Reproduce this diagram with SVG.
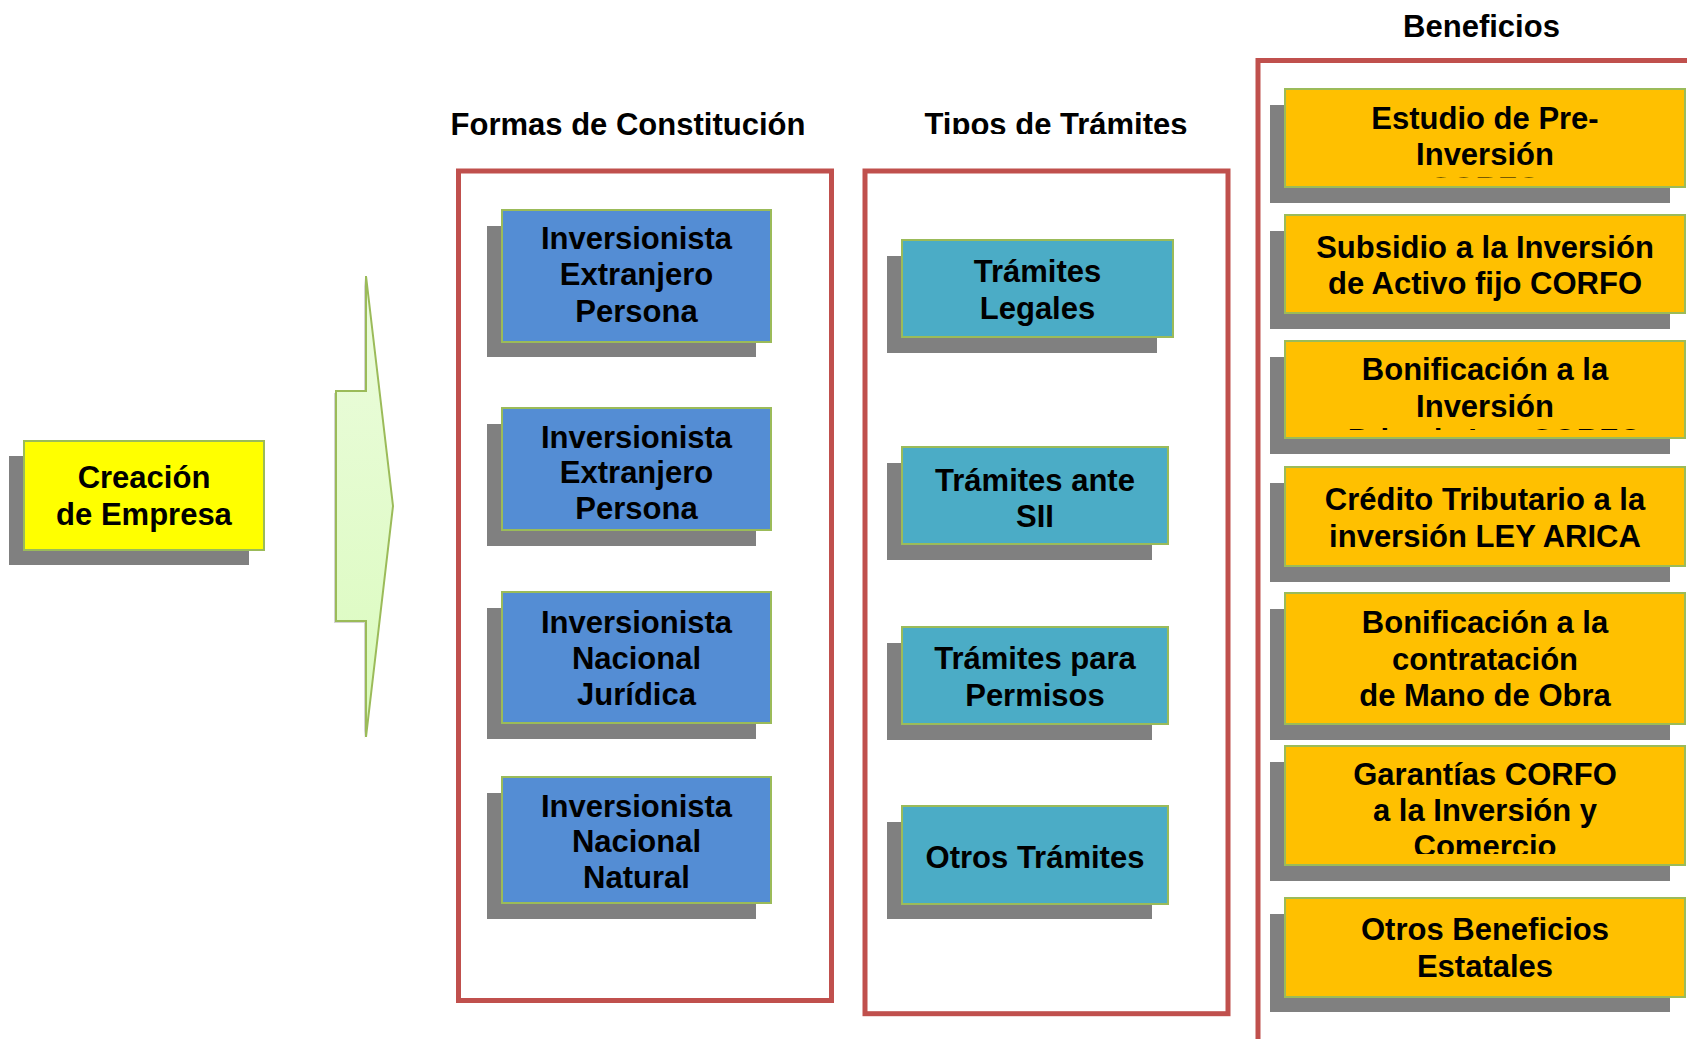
<svg xmlns="http://www.w3.org/2000/svg" width="1687" height="1039" viewBox="0 0 1687 1039">
<style>
.sh{fill:#808080}
.bx{stroke:#9bbb59;stroke-width:2}
.blue{fill:#548dd4}
.teal{fill:#4bacc6}
.orange{fill:#ffc000}
.yellow{fill:#ffff00}
.t{font-family:"Liberation Sans",Arial,sans-serif;font-weight:bold;font-size:31px;fill:#000;text-anchor:middle;transform:translateY(1px)}
.frame{fill:none;stroke:#c0504d;stroke-width:5}
</style>
<defs>
<linearGradient id="arrowFill" x1="0" y1="0" x2="0" y2="1">
<stop offset="0" stop-color="#ecfcde"/>
<stop offset="1" stop-color="#dafbbd"/>
</linearGradient>
<clipPath id="clipTitle2"><rect x="880" y="90" width="360" height="44"/></clipPath>
<clipPath id="clipO1"><rect x="1285" y="89" width="400" height="88.5"/></clipPath>
<clipPath id="clipO3"><rect x="1285" y="341" width="400" height="89"/></clipPath>
<clipPath id="clipO6"><rect x="1285" y="746" width="400" height="108"/></clipPath>
</defs>
<rect width="1687" height="1039" fill="#fff"/>

<g id="frames">
<rect class="frame" x="458.5" y="171" width="373" height="829.5"/>
<rect class="frame" x="865" y="171" width="363" height="842.7"/>
<rect class="frame" x="1258" y="60.5" width="600" height="1100"/>
</g>

<g id="titles">
<text class="t" x="628" y="134">Formas de Constitución</text>
<g clip-path="url(#clipTitle2)"><text class="t" x="1056" y="134">Tipos de Trámites</text></g>
<text class="t" x="1481.5" y="36">Beneficios</text>
</g>

<g id="connectors">
<polygon points="364,278 391,508 364,739 364,623 334,623 334,393 364,393" fill="#808080" opacity="0.35"/>
<polygon points="366,276 393,506 366,737 366,621 336,621 336,391 366,391" fill="url(#arrowFill)" stroke="#9bbb59" stroke-width="2" stroke-linejoin="miter"/>
</g>

<g id="creacion">
<rect class="sh" x="9" y="456" width="240" height="109"/>
<rect class="bx yellow" x="24" y="441" width="240" height="109"/>
<text class="t" x="144" y="487">Creación</text>
<text class="t" x="144" y="524">de Empresa</text>
</g>

<g id="inv-ext-1">
<rect class="sh" x="487" y="226" width="269" height="131"/>
<rect class="bx blue" x="502" y="210" width="269" height="132"/>
<text class="t" x="636.5" y="248">Inversionista</text>
<text class="t" x="636.5" y="284">Extranjero</text>
<text class="t" x="636.5" y="320.5">Persona</text>
</g>
<g id="inv-ext-2">
<rect class="sh" x="487" y="424" width="269" height="122"/>
<rect class="bx blue" x="502" y="408" width="269" height="122"/>
<text class="t" x="636.5" y="446.5">Inversionista</text>
<text class="t" x="636.5" y="481.5">Extranjero</text>
<text class="t" x="636.5" y="517.5">Persona</text>
</g>
<g id="inv-nac-juridica">
<rect class="sh" x="487" y="608" width="269" height="131"/>
<rect class="bx blue" x="502" y="592" width="269" height="131"/>
<text class="t" x="636.5" y="632">Inversionista</text>
<text class="t" x="636.5" y="668">Nacional</text>
<text class="t" x="636.5" y="704">Jurídica</text>
</g>
<g id="inv-nac-natural">
<rect class="sh" x="487" y="793" width="269" height="126"/>
<rect class="bx blue" x="502" y="777" width="269" height="126"/>
<text class="t" x="636.5" y="816">Inversionista</text>
<text class="t" x="636.5" y="851">Nacional</text>
<text class="t" x="636.5" y="887">Natural</text>
</g>

<g id="tram-legales">
<rect class="sh" x="887" y="256" width="270" height="97"/>
<rect class="bx teal" x="902" y="240" width="271" height="97"/>
<text class="t" x="1037.5" y="280.5">Trámites</text>
<text class="t" x="1037.5" y="317.5">Legales</text>
</g>
<g id="tram-sii">
<rect class="sh" x="887" y="463" width="265" height="97"/>
<rect class="bx teal" x="902" y="447" width="266" height="97"/>
<text class="t" x="1035" y="490">Trámites ante</text>
<text class="t" x="1035" y="526">SII</text>
</g>
<g id="tram-permisos">
<rect class="sh" x="887" y="643" width="265" height="97"/>
<rect class="bx teal" x="902" y="627" width="266" height="97"/>
<text class="t" x="1035" y="667.5">Trámites para</text>
<text class="t" x="1035" y="705">Permisos</text>
</g>
<g id="tram-otros">
<rect class="sh" x="887" y="822" width="265" height="97"/>
<rect class="bx teal" x="902" y="806" width="266" height="98"/>
<text class="t" x="1035" y="867">Otros Trámites</text>
</g>

<g id="ben-preinversion">
<rect class="sh" x="1270" y="105" width="400" height="98"/>
<rect class="bx orange" x="1285" y="89" width="400" height="98"/>
<g clip-path="url(#clipO1)">
<text class="t" x="1485" y="127.5">Estudio de Pre-</text>
<text class="t" x="1485" y="164.3">Inversión</text>
<text class="t" x="1485" y="198">CORFO</text>
</g>
</g>
<g id="ben-subsidio">
<rect class="sh" x="1270" y="231" width="400" height="98"/>
<rect class="bx orange" x="1285" y="215" width="400" height="98"/>
<text class="t" x="1485" y="256.7">Subsidio a la Inversión</text>
<text class="t" x="1485" y="293.3">de Activo fijo CORFO</text>
</g>
<g id="ben-bonif-inversion">
<rect class="sh" x="1270" y="357" width="400" height="97"/>
<rect class="bx orange" x="1285" y="341" width="400" height="97"/>
<g clip-path="url(#clipO3)">
<text class="t" x="1485" y="379.3">Bonificación a la</text>
<text class="t" x="1485" y="416">Inversión</text>
<text class="t" x="1495" y="449.5">Privada Ley CORFO</text>
</g>
</g>
<g id="ben-credito">
<rect class="sh" x="1270" y="483" width="400" height="99"/>
<rect class="bx orange" x="1285" y="467" width="400" height="99"/>
<text class="t" x="1485" y="509">Crédito Tributario a la</text>
<text class="t" x="1485" y="545.7">inversión LEY ARICA</text>
</g>
<g id="ben-mano-obra">
<rect class="sh" x="1270" y="609" width="400" height="131"/>
<rect class="bx orange" x="1285" y="593" width="400" height="131"/>
<text class="t" x="1485" y="632.3">Bonificación a la</text>
<text class="t" x="1485" y="668.7">contratación</text>
<text class="t" x="1485" y="705">de Mano de Obra</text>
</g>
<g id="ben-garantias">
<rect class="sh" x="1270" y="762" width="400" height="119"/>
<rect class="bx orange" x="1285" y="746" width="400" height="119"/>
<g clip-path="url(#clipO6)">
<text class="t" x="1485" y="784">Garantías CORFO</text>
<text class="t" x="1485" y="820">a la Inversión y</text>
<text class="t" x="1485" y="855.5">Comercio</text>
</g>
</g>
<g id="ben-otros">
<rect class="sh" x="1270" y="914" width="400" height="98"/>
<rect class="bx orange" x="1285" y="898" width="400" height="99"/>
<text class="t" x="1485" y="939">Otros Beneficios</text>
<text class="t" x="1485" y="976">Estatales</text>
</g>
</svg>
